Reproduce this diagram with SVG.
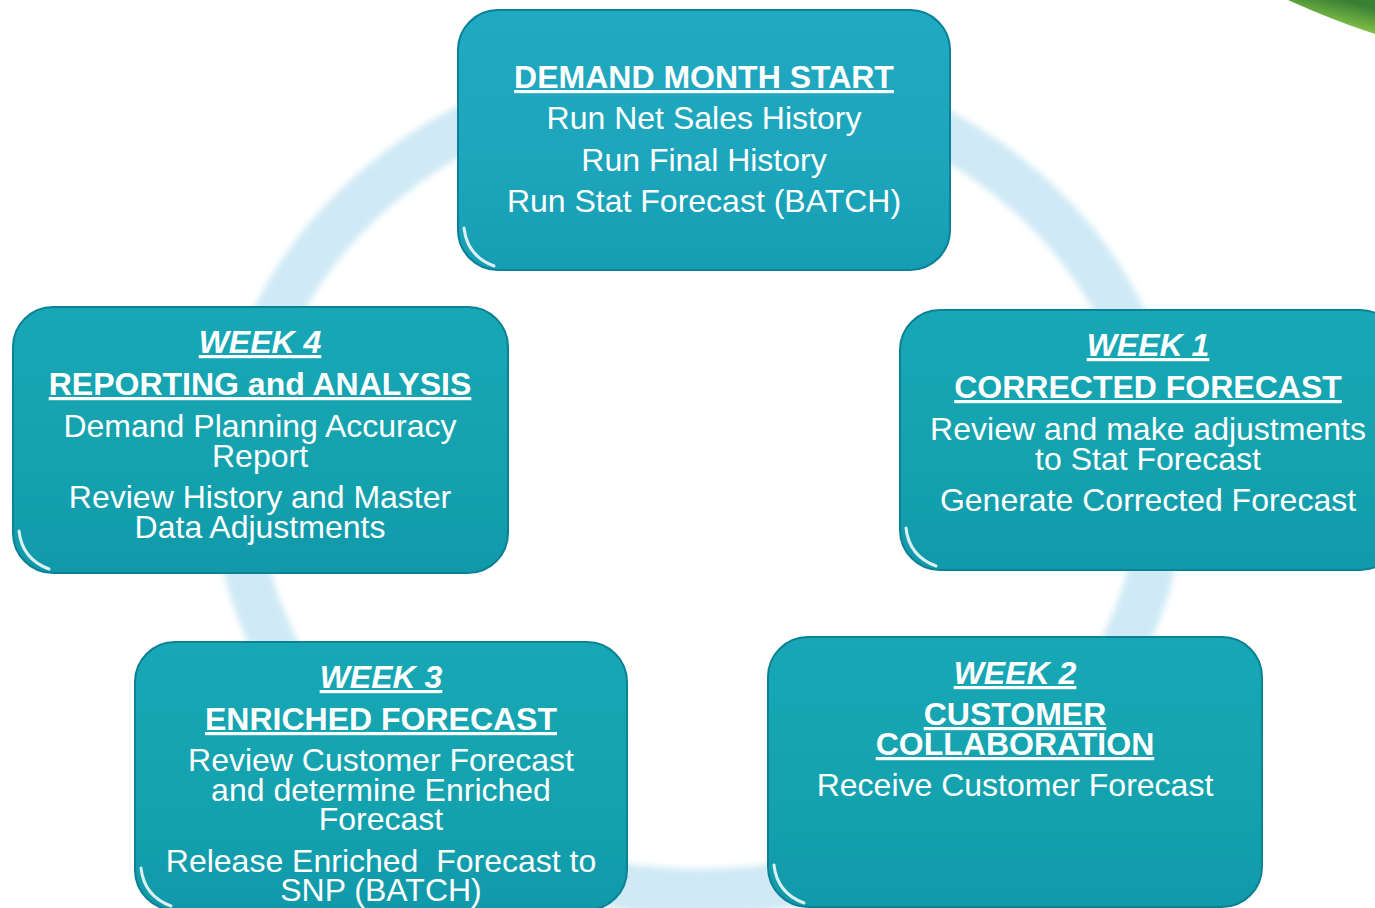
<svg xmlns="http://www.w3.org/2000/svg" width="1375" height="908" viewBox="0 0 1375 908">
<defs>
<style>
.box{fill:url(#teal);stroke:#0c8196;stroke-width:2}
.boxtop{fill:url(#tealTop);stroke:#0b7f99;stroke-width:2}
.gloss{fill:none;stroke:#ffffff;stroke-width:3;stroke-linecap:round;opacity:0.85}
text{font-family:"Liberation Sans",Arial,sans-serif;fill:#ffffff;text-anchor:middle;font-size:32px}
.h{font-weight:bold;text-decoration:underline}
.hi{font-weight:bold;font-style:italic;text-decoration:underline}
</style>
<linearGradient id="teal" x1="0" y1="0" x2="0" y2="1">
<stop offset="0" stop-color="#18a7b5"/>
<stop offset="0.6" stop-color="#14a2ae"/>
<stop offset="1" stop-color="#1199aa"/>
</linearGradient>
<linearGradient id="tealTop" x1="0" y1="0" x2="0" y2="1">
<stop offset="0" stop-color="#20a9c0"/>
<stop offset="0.6" stop-color="#1ca5bb"/>
<stop offset="1" stop-color="#169db3"/>
</linearGradient>
<linearGradient id="leaf" x1="0" y1="1" x2="0.6" y2="0">
<stop offset="0" stop-color="#eef8b0"/>
<stop offset="0.35" stop-color="#8ccb4a"/>
<stop offset="1" stop-color="#3a8034"/>
</linearGradient>
<filter id="soft" x="-10%" y="-10%" width="120%" height="120%">
<feGaussianBlur stdDeviation="3"/>
</filter>
</defs>
<rect width="1375" height="908" fill="#ffffff"/>
<path d="M1288,0 Q1332,20 1375,34 L1375,0 Z" fill="url(#leaf)"/>
<g id="connectors">
<ellipse cx="699" cy="482" rx="463" ry="410" fill="none" stroke="#cfeaf5" stroke-width="46" filter="url(#soft)"/>
</g>
<g id="node-start">
<rect class="boxtop" x="458" y="10" width="492" height="260" rx="40"/>
<path class="gloss" d="M464,228 Q467,256 494,266"/>
<text x="704" y="88" class="h">DEMAND MONTH START</text>
<text x="704" y="129">Run Net Sales History</text>
<text x="704" y="171">Run Final History</text>
<text x="704" y="212">Run Stat Forecast (BATCH)</text>
</g>
<g id="node-week4">
<rect class="box" x="13" y="307" width="495" height="266" rx="40"/>
<path class="gloss" d="M19,531 Q22,559 49,569"/>
<text x="260" y="353" class="hi">WEEK 4</text>
<text x="260" y="395" class="h">REPORTING and ANALYSIS</text>
<text x="260" y="437">Demand Planning Accuracy</text>
<text x="260" y="467">Report</text>
<text x="260" y="508">Review History and Master</text>
<text x="260" y="538">Data Adjustments</text>
</g>
<g id="node-week1">
<rect class="box" x="900" y="310" width="500" height="260" rx="40"/>
<path class="gloss" d="M906,528 Q909,556 936,566"/>
<text x="1148" y="356" class="hi">WEEK 1</text>
<text x="1148" y="398" class="h">CORRECTED FORECAST</text>
<text x="1148" y="440">Review and make adjustments</text>
<text x="1148" y="470">to Stat Forecast</text>
<text x="1148" y="511">Generate Corrected Forecast</text>
</g>
<g id="node-week3">
<rect class="box" x="135" y="642" width="492" height="268" rx="40"/>
<path class="gloss" d="M141,868 Q144,896 171,906"/>
<text x="381" y="688" class="hi">WEEK 3</text>
<text x="381" y="730" class="h">ENRICHED FORECAST</text>
<text x="381" y="771">Review Customer Forecast</text>
<text x="381" y="801">and determine Enriched</text>
<text x="381" y="830">Forecast</text>
<text x="381" y="872" xml:space="preserve">Release Enriched  Forecast to</text>
<text x="381" y="901">SNP (BATCH)</text>
</g>
<g id="node-week2">
<rect class="box" x="768" y="637" width="494" height="270" rx="40"/>
<path class="gloss" d="M774,865 Q777,893 804,903"/>
<text x="1015" y="684" class="hi">WEEK 2</text>
<text x="1015" y="725" class="h">CUSTOMER</text>
<text x="1015" y="755" class="h">COLLABORATION</text>
<text x="1015" y="796">Receive Customer Forecast</text>
</g>
</svg>
